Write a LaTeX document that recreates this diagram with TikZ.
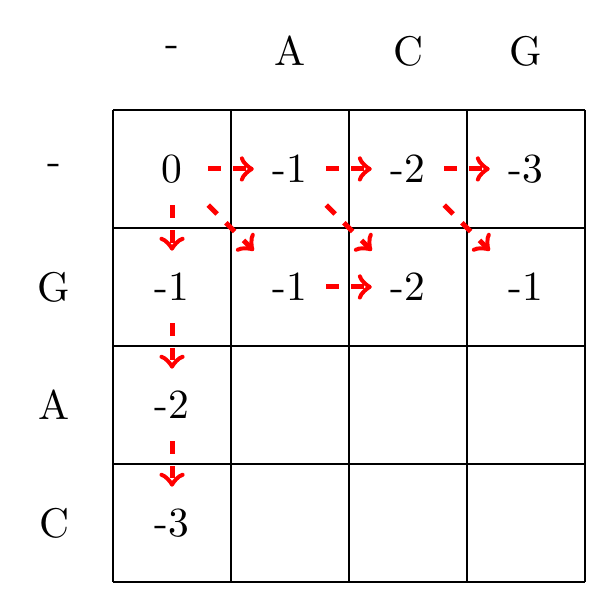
\documentclass[tikz,border=0pt]{standalone}
\usepackage{tikz}
\tikzset{
  cellnum/.style={minimum size=0.6cm, inner sep=0pt},
  steparrow/.style={->, red, very thick, dashed},
}
\newcommand{\drawgridplain}[1]{
    \foreach \x in {0,...,#1}{
    \draw (\x,#1)--(\x,0);
    }
    \foreach \y in {0,...,#1}{
      \draw (0,\y)--(#1,\y);
    }
}

\begin{document}
\begin{tikzpicture}
\useasboundingbox (-0.958,-0.22) rectangle (4.212,4.932);
\drawgridplain{4}
% sequence letters
\foreach \c [count=\i from 0] in {-,A,C,G}{
  \node (top\i) at (\i+0.5,4.5) {\c};
}
\foreach \c [count=\j from 0] in {-,G,A,C}{
  \node (side\j) at (-0.5,3.5-\j) {\c};
}
% scores
\node[cellnum] (c00) at (0.5,3.5) {0};
\node[cellnum] (c01) at (1.5,3.5) {-1};
\node[cellnum] (c02) at (2.5,3.5) {-2};
\node[cellnum] (c03) at (3.5,3.5) {-3};
\node[cellnum] (c10) at (0.5,2.5) {-1};
\node[cellnum] (c11) at (1.5,2.5) {-1};
\node[cellnum] (c12) at (2.5,2.5) {-2};
\node[cellnum] (c13) at (3.5,2.5) {-1};
\node[cellnum] (c20) at (0.5,1.5) {-2};
\node[cellnum] (c30) at (0.5,0.5) {-3};
% steps
\draw[steparrow] (c00) -- (c01);
\draw[steparrow] (c01) -- (c02);
\draw[steparrow] (c02) -- (c03);
\draw[steparrow] (c00) -- (c11);
\draw[steparrow] (c01) -- (c12);
\draw[steparrow] (c02) -- (c13);
\draw[steparrow] (c11) -- (c12);
\draw[steparrow] (c00) -- (c10);
\draw[steparrow] (c10) -- (c20);
\draw[steparrow] (c20) -- (c30);
\end{tikzpicture}
\end{document}
